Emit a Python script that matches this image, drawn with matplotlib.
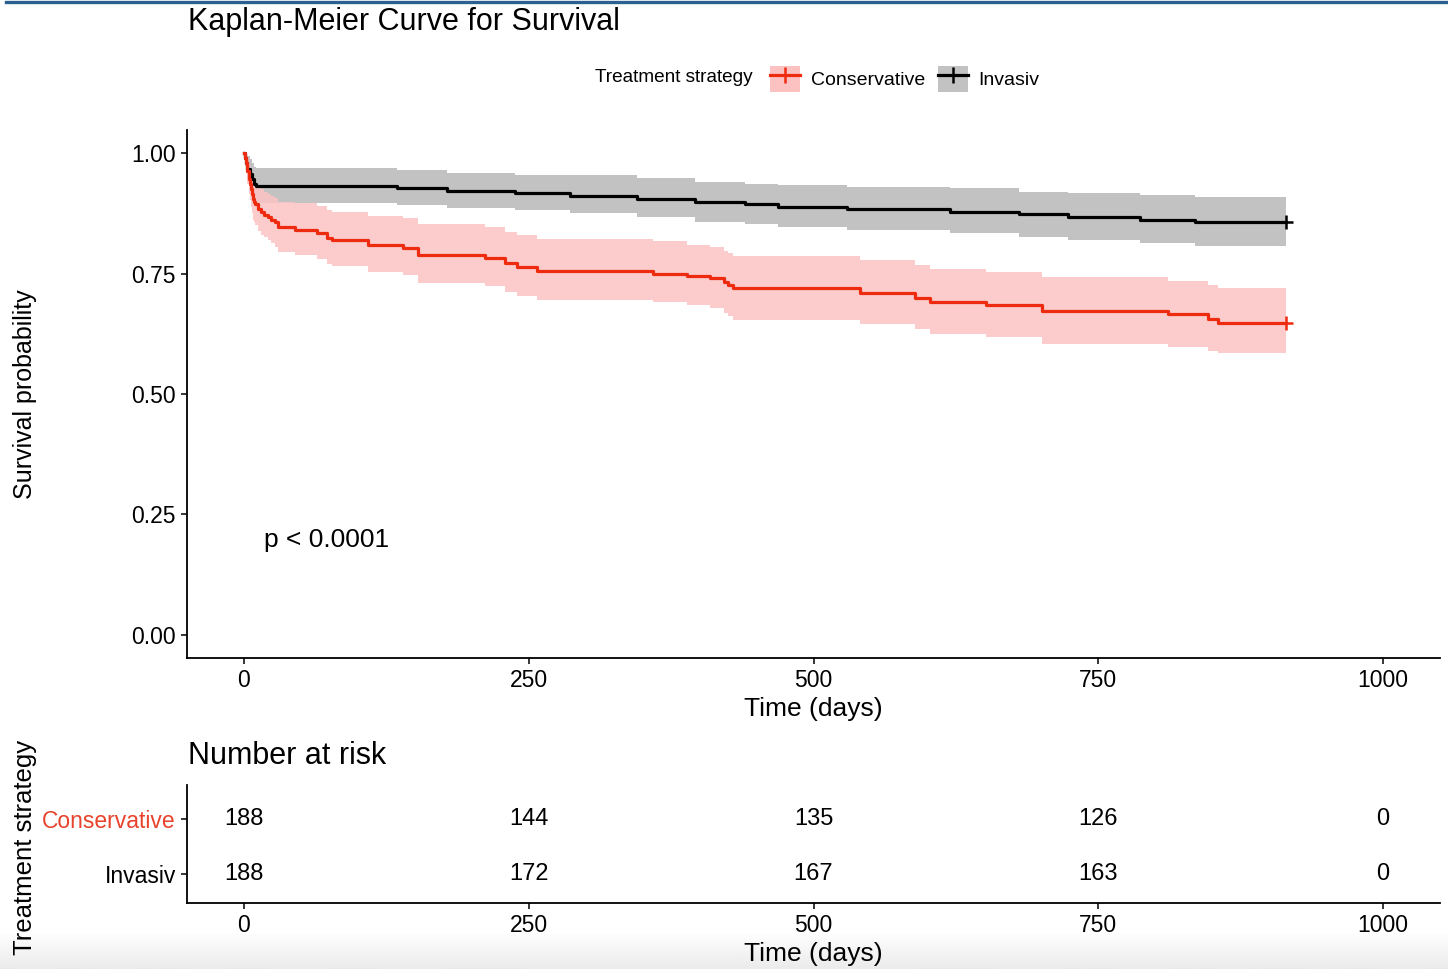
import numpy as np
import matplotlib
matplotlib.use("Agg")
import matplotlib.pyplot as plt
from matplotlib.patches import Patch
from matplotlib.lines import Line2D

plt.rcParams["font.family"] = ["Liberation Sans", "DejaVu Sans"]

# ---------------------------------------------------------------------------
# Data
# ---------------------------------------------------------------------------

INV_TIME = [0, 1, 2, 3, 5, 7, 9, 11, 134, 178, 238, 286, 345, 396, 440, 469,
            529, 620, 680, 723, 787, 835, 915]
INV_SURV = [1.0, 0.989, 0.979, 0.968, 0.957, 0.947, 0.936, 0.931, 0.927, 0.921,
            0.917, 0.910, 0.905, 0.899, 0.894, 0.888, 0.884, 0.878, 0.873, 0.867,
            0.862, 0.857, 0.857]
INV_UPPER = [1.0, 1.0, 0.999, 0.993, 0.987, 0.979, 0.971, 0.969, 0.965, 0.958,
             0.955, 0.954, 0.948, 0.940, 0.936, 0.934, 0.929, 0.927, 0.919, 0.917,
             0.913, 0.909, 0.909]
INV_LOWER = [1.0, 0.974, 0.958, 0.943, 0.929, 0.916, 0.903, 0.896, 0.892, 0.887,
             0.882, 0.876, 0.867, 0.857, 0.852, 0.846, 0.840, 0.834, 0.826, 0.820,
             0.813, 0.807, 0.805]

CON_TIME = [0, 1, 2, 3, 4, 5, 6, 7, 8, 9, 10, 12, 15, 18, 21, 24, 27, 30, 45, 64,
            73, 77, 109, 140, 153, 212, 229, 240, 257, 359, 389, 409, 421, 425,
            429, 541, 589, 602, 651, 701, 811, 846, 855, 915]
CON_SURV = [1.0, 0.989, 0.979, 0.963, 0.947, 0.936, 0.926, 0.915, 0.904, 0.899,
            0.894, 0.883, 0.878, 0.872, 0.867, 0.862, 0.856, 0.846, 0.840, 0.834,
            0.824, 0.819, 0.809, 0.803, 0.788, 0.782, 0.771, 0.763, 0.756, 0.750,
            0.745, 0.740, 0.733, 0.726, 0.720, 0.710, 0.700, 0.691, 0.685, 0.672,
            0.666, 0.656, 0.648, 0.648]
CON_UPPER = [1.0, 1.0, 1.0, 0.990, 0.980, 0.972, 0.964, 0.955, 0.946, 0.942,
             0.938, 0.929, 0.925, 0.920, 0.916, 0.912, 0.907, 0.899, 0.896, 0.890,
             0.882, 0.878, 0.870, 0.865, 0.852, 0.846, 0.837, 0.830, 0.822, 0.818,
             0.810, 0.805, 0.797, 0.792, 0.786, 0.778, 0.768, 0.760, 0.753, 0.742,
             0.735, 0.726, 0.720, 0.720]
CON_LOWER = [1.0, 0.974, 0.958, 0.936, 0.916, 0.902, 0.889, 0.876, 0.862, 0.856,
             0.850, 0.838, 0.831, 0.825, 0.819, 0.813, 0.806, 0.795, 0.788, 0.781,
             0.770, 0.765, 0.754, 0.747, 0.731, 0.724, 0.712, 0.703, 0.695, 0.690,
             0.684, 0.678, 0.668, 0.661, 0.654, 0.645, 0.634, 0.624, 0.618, 0.604,
             0.598, 0.590, 0.585, 0.585]

RISK_TIMES = [0, 250, 500, 750, 1000]
RISK_CON = [188, 144, 135, 126, 0]
RISK_INV = [188, 172, 167, 163, 0]

GROUPS = ["Conservative", "Invasiv"]
RED = "#ee2b0e"
PINK = "#fcc2c2"
GREY = "#c2c2c2"

# ---------------------------------------------------------------------------
# Figure
# ---------------------------------------------------------------------------

W, H = 1448, 969
fig = plt.figure(figsize=(W / 100, H / 100), dpi=100)

# faint screenshot shading at the bottom and blue rule at the top
bg = fig.add_axes([0, 0, 1, 38 / H], zorder=-5)
bg.imshow(np.linspace(1.0, 0.92, 50).reshape(-1, 1), cmap="gray", vmin=0, vmax=1,
          aspect="auto", extent=[0, 1, 0, 1])
bg.axis("off")
fig.add_artist(Line2D([6 / W, 1], [1 - 2 / H, 1 - 2 / H], color="#2b6093", lw=2.4))


def style_axes(ax):
    for s in ("top", "right"):
        ax.spines[s].set_visible(False)
    for s in ("left", "bottom"):
        ax.spines[s].set_linewidth(1.3)
    ax.tick_params(length=4, width=1.1, pad=4, labelsize=16.5, colors="black")
    ax.set_xlim(-50, 1050)
    ax.set_xticks([0, 250, 500, 750, 1000])


# main KM plot
ax = fig.add_axes([187 / W, 1 - 658 / H, 1253 / W, 528 / H])
style_axes(ax)
ax.set_ylim(-0.048, 1.048)
ax.set_yticks([0, 0.25, 0.5, 0.75, 1.0])
ax.set_yticklabels(["0.00", "0.25", "0.50", "0.75", "1.00"])

ax.fill_between(INV_TIME, INV_LOWER, INV_UPPER, step="post", color=GREY, lw=0, zorder=1)
ax.fill_between(CON_TIME, CON_LOWER, CON_UPPER, step="post", color=PINK, lw=0,
                alpha=0.85, zorder=1)
ax.step(INV_TIME, INV_SURV, where="post", color="black", lw=2.3, zorder=3)
ax.step(CON_TIME, CON_SURV, where="post", color=RED, lw=2.3, zorder=3)
ax.plot(INV_TIME[-1], INV_SURV[-1], "+", color="black", ms=10, mew=1.8, zorder=4)
ax.plot(CON_TIME[-1], CON_SURV[-1], "+", color=RED, ms=10, mew=1.8, zorder=4)

ax.text(18, 0.197, "p < 0.0001", ha="left", va="center", fontsize=19)
ax.set_xlabel("Time (days)", fontsize=19, labelpad=3.5)
ax.set_ylabel("Survival probability", fontsize=18)
ax.yaxis.set_label_coords(-0.120, 0.5)

fig.text(188 / W, 1 - 22 / H, "Kaplan-Meier Curve for Survival", fontsize=22,
         ha="left", va="center")

# legend across the top
fig.text(753 / W, 1 - 78 / H, "Treatment strategy", fontsize=13.7, ha="right", va="center")
handles = [
    (Patch(facecolor=PINK, edgecolor="none"),
     Line2D([], [], color=RED, lw=2.3, marker="+", ms=11, mew=1.8)),
    (Patch(facecolor=GREY, edgecolor="none"),
     Line2D([], [], color="black", lw=2.3, marker="+", ms=11, mew=1.8)),
]
fig.legend(handles, GROUPS, loc="center left", bbox_to_anchor=(770 / W, 1 - 79 / H),
           ncol=2, frameon=False, fontsize=14, handlelength=1.55, handleheight=1.75,
           handletextpad=0.55, columnspacing=0.65, borderpad=0, borderaxespad=0,
           numpoints=1)

# risk table
rt = fig.add_axes([187 / W, 1 - 903 / H, 1253 / W, 118 / H])
style_axes(rt)
rt.set_ylim(-0.53, 1.62)
rt.set_yticks([1, 0])
rt.set_yticklabels(GROUPS)
rt.get_yticklabels()[0].set_color("#e8432d")
for t, c, i in zip(RISK_TIMES, RISK_CON, RISK_INV):
    rt.text(t, 1, str(c), ha="center", va="center", fontsize=17)
    rt.text(t, 0, str(i), ha="center", va="center", fontsize=17)
rt.set_xlabel("Time (days)", fontsize=19, labelpad=3.5)
rt.set_ylabel("Treatment strategy", fontsize=18.5)
rt.yaxis.set_label_coords(-0.120, 0.47)
fig.text(188 / W, 1 - 756 / H, "Number at risk", fontsize=22, ha="left", va="center")

fig.savefig("out.png", dpi=100)
